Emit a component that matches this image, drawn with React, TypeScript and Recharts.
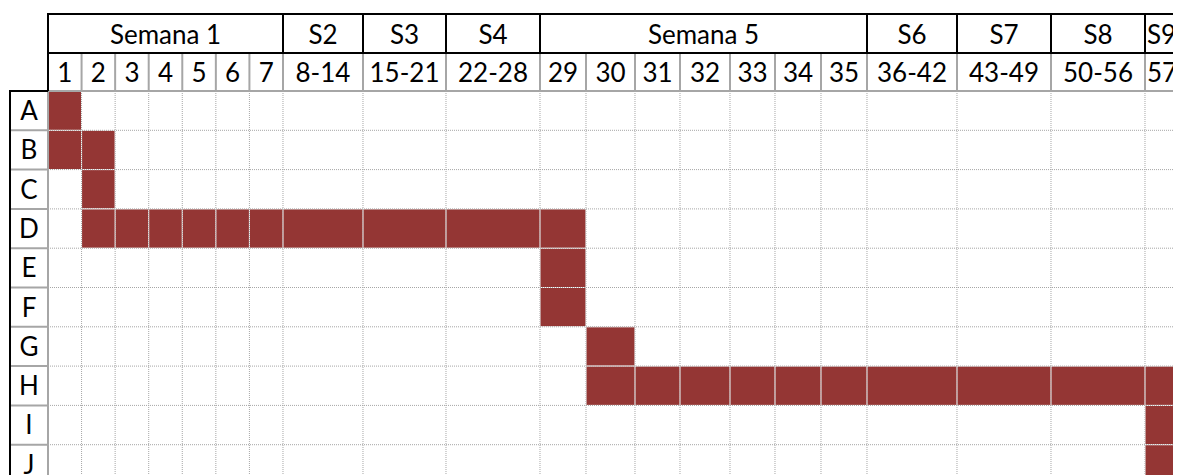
import React from 'react';
import { ComposedChart, Bar, XAxis, YAxis, CartesianGrid } from 'recharts';

// ---- data ----
const columnLabels = ['1', '2', '3', '4', '5', '6', '7', '8-14', '15-21', '22-28', '29', '30', '31', '32', '33', '34', '35', '36-42', '43-49', '50-56', '57'];
const weekLabels = ['Semana 1', 'S2', 'S3', 'S4', 'Semana 5', 'S6', 'S7', 'S8', 'S9'];
const weekSpans = [7, 1, 1, 1, 7, 1, 1, 1, 1]; // columns covered by each week header
const tasks = ['A', 'B', 'C', 'D', 'E', 'F', 'G', 'H', 'I', 'J'];
const startCol = [1, 1, 2, 2, 11, 11, 12, 12, 21, 21]; // 1-based column index
const endCol = [1, 2, 2, 11, 11, 11, 12, 21, 21, 21];

// ---- layout (spreadsheet column widths, in width units) ----
const COL_W = [33.57, 33.57, 33.57, 33.57, 33.57, 33.57, 33.57, 80, 83, 94, 46, 49, 45, 50, 45, 46, 46, 90, 94, 94, 46];
const EDGES: number[] = COL_W.reduce((acc: number[], w) => { acc.push(acc[acc.length - 1] + w); return acc; }, [0]);
const TOTAL = EDGES[EDGES.length - 1];

const CHART_W = 1190;
const CHART_H = 480;
const MARGIN = { top: 6, right: 7, bottom: 4, left: 2 };
const LABEL_W = 38;
const WEEK_H = 39;
const DAY_H = 38;
const PLOT_W = CHART_W - MARGIN.left - MARGIN.right - LABEL_W;
const PLOT_H = CHART_H - MARGIN.top - MARGIN.bottom - WEEK_H - DAY_H;
const PX = PLOT_W / TOTAL;
const ROW_H = PLOT_H / tasks.length;

const FILL = '#943634';
const GRAY = '#a6a6a6';
const FONT = 'Lato, "Open Sans", sans-serif';
const FS = 26;

const dayCenters = COL_W.map((_, i) => (EDGES[i] + EDGES[i + 1]) / 2);
const weekBounds: number[][] = [];
{
  let c = 0;
  weekSpans.forEach((s) => { weekBounds.push([EDGES[c], EDGES[c + s]]); c += s; });
}
const weekCenters = weekBounds.map(([a, b]) => (a + b) / 2);

const rows = tasks.map((t, i) => ({ task: t, span: [EDGES[startCol[i] - 1], EDGES[endCol[i]]] }));

function findIdx(arr: number[], v: number) {
  let best = 0;
  arr.forEach((c, i) => { if (Math.abs(c - v) < Math.abs(arr[best] - v)) best = i; });
  return best;
}

function DayTick(props: any) {
  const { x, y, payload } = props;
  const i = findIdx(dayCenters, payload.value);
  const w = COL_W[i] * PX;
  const left = x - w / 2;
  const right = x + w / 2;
  const bottom = y;
  const top = y - DAY_H;
  const last = i === columnLabels.length - 1;
  return (
    <g>
      <line x1={right} x2={right} y1={top} y2={bottom} stroke={GRAY} strokeWidth={2} />
      <line x1={left - 1} x2={right + 1} y1={bottom} y2={bottom} stroke={GRAY} strokeWidth={2} />
      {i === 0 && <line x1={left} x2={left} y1={top} y2={bottom + 1} stroke="#000" strokeWidth={2} />}
      <text x={last ? left + 2 : x} y={top + 29} textAnchor={last ? 'start' : 'middle'} fontFamily={FONT} fontSize={FS} fill="#000">{columnLabels[i]}</text>
    </g>
  );
}

function WeekTick(props: any) {
  const { x, y, payload } = props;
  const g = findIdx(weekCenters, payload.value);
  const w = (weekBounds[g][1] - weekBounds[g][0]) * PX;
  const left = x - w / 2;
  const right = x + w / 2;
  const bottom = y;
  const top = y - WEEK_H;
  const last = g === weekLabels.length - 1;
  return (
    <g>
      <line x1={left - 1} x2={right + 1} y1={top} y2={top} stroke="#000" strokeWidth={2} />
      <line x1={left - 1} x2={right + 1} y1={bottom} y2={bottom} stroke="#000" strokeWidth={2} />
      <line x1={right} x2={right} y1={top} y2={bottom} stroke="#000" strokeWidth={2} />
      {g === 0 && <line x1={left} x2={left} y1={top - 1} y2={bottom} stroke="#000" strokeWidth={2} />}
      <text x={last ? left + 2 : x} y={top + 30} textAnchor={last ? 'start' : 'middle'} fontFamily={FONT} fontSize={FS} fill="#000">{weekLabels[g]}</text>
    </g>
  );
}

function TaskTick(props: any) {
  const { x, y, payload, index } = props;
  const top = y - ROW_H / 2;
  const bottom = y + ROW_H / 2;
  const right = x;
  const left = x - LABEL_W;
  return (
    <g>
      <line x1={left} x2={right} y1={bottom} y2={bottom} stroke={GRAY} strokeWidth={2} />
      <line x1={right} x2={right} y1={top} y2={bottom} stroke={GRAY} strokeWidth={2} />
      <line x1={left} x2={left} y1={top - 1} y2={bottom + 1} stroke="#000" strokeWidth={2} />
      {index === 0 && <line x1={left - 1} x2={right} y1={top} y2={top} stroke="#000" strokeWidth={2} />}
      <text x={(left + right) / 2} y={top + 29} textAnchor="middle" fontFamily={FONT} fontSize={FS} fill="#000">{payload.value}</text>
    </g>
  );
}

const vGen = (p: any) => {
  const off = (p && p.offset) || {};
  const l = typeof off.left === 'number' ? off.left : MARGIN.left + LABEL_W;
  const w = typeof off.width === 'number' ? off.width : PLOT_W;
  return EDGES.slice(1).map((e) => l + (e * w) / TOTAL);
};
const hGen = (p: any) => {
  const off = (p && p.offset) || {};
  const t = typeof off.top === 'number' ? off.top : MARGIN.top + WEEK_H + DAY_H;
  const h = typeof off.height === 'number' ? off.height : PLOT_H;
  const out: number[] = [];
  for (let i = 1; i <= tasks.length; i++) out.push(t + (i * h) / tasks.length);
  return out;
};

export default function App() {
  return (
    <div style={{ width: 1173, height: 467, overflow: 'hidden' }}>
      <ComposedChart
        width={CHART_W}
        height={CHART_H}
        data={rows}
        layout="vertical"
        margin={MARGIN}
        barCategoryGap={0}
        barGap={0}
      >
        <Bar dataKey="span" fill={FILL} isAnimationActive={false} />
        <CartesianGrid
          stroke="#ffffff"
          strokeWidth={1}
          horizontal
          vertical
          verticalCoordinatesGenerator={vGen}
          horizontalCoordinatesGenerator={hGen}
          {...({ zIndex: 350 } as any)}
        />
        <CartesianGrid
          stroke={GRAY}
          strokeWidth={1}
          strokeDasharray="1 1"
          horizontal
          vertical
          verticalCoordinatesGenerator={vGen}
          horizontalCoordinatesGenerator={hGen}
          {...({ zIndex: 351 } as any)}
        />
        <XAxis
          type="number"
          orientation="top"
          domain={[0, TOTAL]}
          ticks={dayCenters}
          interval={0}
          height={DAY_H}
          axisLine={false}
          tickLine={false}
          tickSize={0}
          tickMargin={0}
          tick={<DayTick />}
          allowDataOverflow
        />
        <XAxis
          xAxisId="w"
          type="number"
          orientation="top"
          domain={[0, TOTAL]}
          ticks={weekCenters}
          interval={0}
          height={WEEK_H}
          axisLine={false}
          tickLine={false}
          tickSize={0}
          tickMargin={0}
          tick={<WeekTick />}
          allowDataOverflow
        />
        <YAxis
          type="category"
          dataKey="task"
          width={LABEL_W}
          axisLine={false}
          tickLine={false}
          tickSize={0}
          tickMargin={0}
          interval={0}
          tick={<TaskTick />}
        />
      </ComposedChart>
    </div>
  );
}
